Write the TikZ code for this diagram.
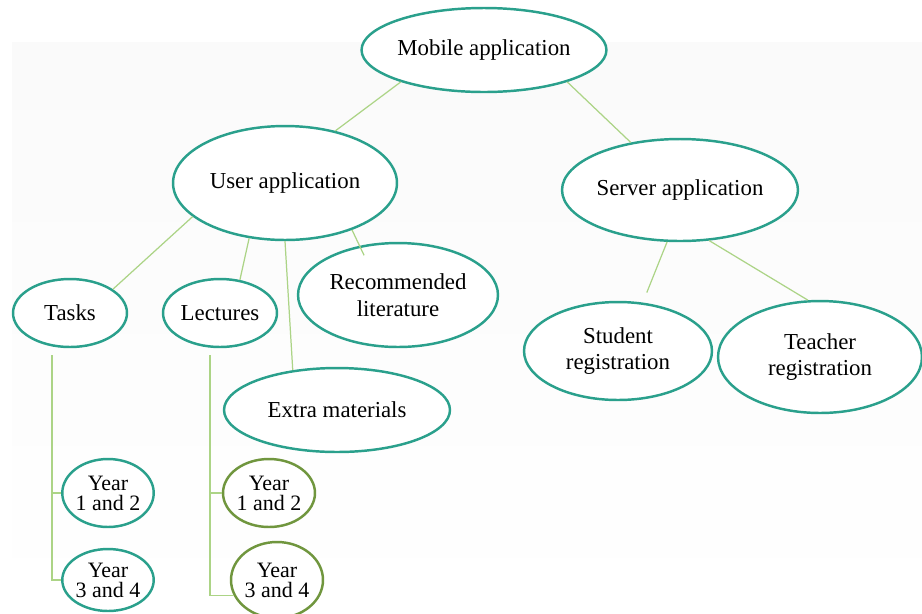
\documentclass[tikz,border=0pt]{standalone}
\usepackage{fontspec}
\setmainfont{Liberation Serif}
\usetikzlibrary{shapes.geometric,positioning}

\definecolor{tealline}{RGB}{42,160,140}
\definecolor{oliveline}{RGB}{112,150,62}
\definecolor{linkgreen}{RGB}{172,212,134}

\tikzset{
	bubble/.style={ellipse, draw=tealline, line width=1.4pt, fill=white, inner sep=0pt,
		align=center, font=\fontsize{13}{15}\selectfont},
	yearbubble/.style={bubble, font=\fontsize{12.5}{11.3}\selectfont},
	link/.style={draw=linkgreen, line width=0.7pt}
}

\begin{document}
\begin{tikzpicture}[x=0.02cm, y=-0.02cm]
	\useasboundingbox (0,0) rectangle (922,613);
	% Background
	\shade[top color=gray!4, middle color=gray!6, bottom color=white] (12,42) rectangle (922,613);

	% Top levels
	\node[bubble, minimum width=4.68cm, minimum height=1.68cm] (mob) at (484,50) {Mobile application};
	\node[bubble, minimum width=4.48cm, minimum height=2.28cm] (user) at (285,183) {User application};
	\node[bubble, minimum width=4.72cm, minimum height=2.04cm] (serv) at (680,190) {Server application};

	% User application parts
	\node[bubble, minimum width=2.28cm, minimum height=1.36cm] (tasks) at (70,313) {Tasks};
	\node[bubble, minimum width=2.28cm, minimum height=1.36cm] (lect) at (220,313) {Lectures};
	\node[bubble, minimum width=4.0cm, minimum height=2.08cm] (rec) at (398,295) {Recommended\\literature};
	\node[bubble, minimum width=4.52cm, minimum height=1.68cm] (extra) at (337,410) {Extra materials};

	% Server application parts
	\node[bubble, minimum width=3.76cm, minimum height=1.96cm] (stud) at (618,351) {Student\\registration};
	\node[bubble, minimum width=4.08cm, minimum height=2.24cm] (teach) at (820,357) {Teacher\\registration};

	% Years
	\node[yearbubble, minimum width=1.68cm, minimum height=1.36cm] (ty1) at (108,493) {Year\\1 and 2};
	\node[yearbubble, minimum width=1.68cm, minimum height=1.24cm] (ty3) at (108,580) {Year\\3 and 4};
	\node[yearbubble, draw=oliveline, minimum width=1.84cm, minimum height=1.36cm] (ly1) at (269,493) {Year\\1 and 2};
	\node[yearbubble, draw=oliveline, minimum width=1.84cm, minimum height=1.52cm] (ly3) at (277,580) {Year\\3 and 4};

	% Connectors
	\draw[link] (mob.201) -- (user.46);
	\draw[link] (mob.339) -- (serv.136);
	\draw[link] (user.200) -- (tasks.29);
	\draw[link] (user.237) -- (lect.59);
	\draw[link] (user.270) -- (extra.138);
	\draw[link, shorten >=-6pt] (user.325) -- (rec.128);
	\draw[link] (serv.256) -- ([yshift=6pt]stud.59);
	\draw[link] (serv.300) -- (teach.102);

	% Brackets to years
	\coordinate (tbar) at (52,355);
	\draw[link] (tbar) |- (ty1.west);
	\draw[link] (tbar) |- (ty3.west);
	\coordinate (lbar) at (210,355);
	\draw[link] (lbar) |- (ly1.west);
	\draw[link] (lbar) |- (ly3.200);
\end{tikzpicture}
\end{document}
